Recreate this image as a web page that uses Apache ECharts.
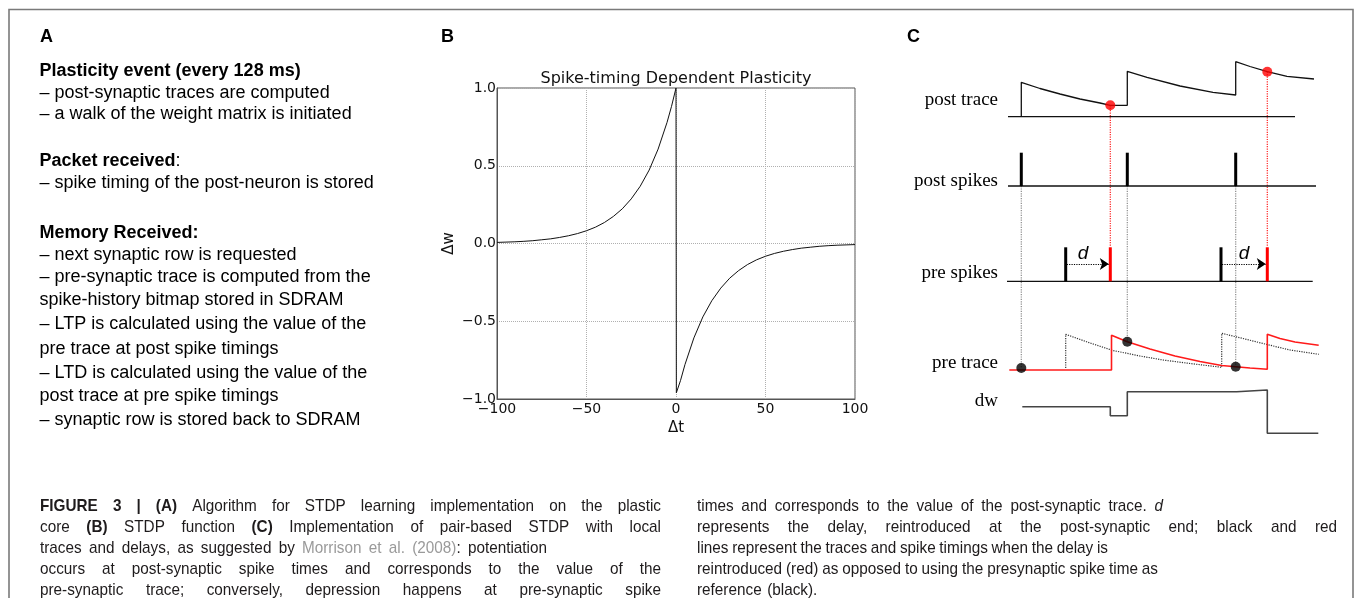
<!DOCTYPE html>
<html><head><meta charset="utf-8">
<script src="https://cdn.jsdelivr.net/npm/echarts@6.0.0/dist/echarts.min.js"></script>
<style>html,body{margin:0;padding:0;background:#fff}#c{width:1355px;height:598px}</style>
</head><body><div id="c"></div>
<script>
// ---------- Panel B data: STDP function ----------
const stdpDt = [-100,-95,-90,-85,-80,-75,-70,-65,-60,-55,-50,-45,-40,-35,-30,-25,-20,-15,-10,-5,-2.5,0,
                0.2,1,2.5,5,10,15,20,25,30,35,40,45,50,55,60,65,70,75,80,85,90,95,100];
const stdpDw = [0.007,0.009,0.011,0.014,0.018,0.024,0.030,0.039,0.050,0.064,0.082,0.105,0.135,0.174,0.223,0.287,0.368,0.472,0.607,0.779,0.882,1.0,
                -0.96,-0.951,-0.882,-0.779,-0.607,-0.472,-0.368,-0.287,-0.223,-0.174,-0.135,-0.105,-0.082,-0.064,-0.050,-0.039,-0.030,-0.024,-0.018,-0.014,-0.011,-0.009,-0.007];
const xTicks = [-100,-50,0,50,100];
const yTicks = [-1.0,-0.5,0.0,0.5,1.0];

// ---------- Panel C data (time t, level y in diagram units) ----------
const postTraceBase = [[8,323.3],[295,323.3]];
const postTrace = [[21.3,323.3],[21.3,357.7],[40,351.5],[60,346],[80,341],[100,337],[110.3,334.7],[127.3,334.7],
                   [127.3,368.7],[147,362.7],[180,354],[213,347.7],[235.7,345],
                   [235.7,378.3],[250,373.5],[267.3,368.3],[287,363.7],[314,361]];
const postSpikeBase = [[8,254],[316,254]];
const postSpikeTimes = [21.3,127.3,235.7];
const postSpikeLevels = [254,287.3];
const preSpikeBase = [[7,158.7],[312.7,158.7]];
const preSpikeTimes = [65.7,221];
const delayedSpikeTimes = [110.3,267.3];
const preSpikeLevels = [158.7,192.7];
const delayArrowLevel = 176;
const preTraceDelayed = [[9.3,70],[111.5,70],[111.5,104.7],[127.3,98.3],[150,91],[175,84],[200,78.5],[221.7,74.5],[235.7,73.3],[250,72],[267.3,70.7],
                         [267.3,105.7],[280,101.5],[295,98],[318.7,94.7]];
const preTraceRaw = [[65.7,72],[65.7,105.7],[90,97],[113,89.5],[140,84],[163,80],[190,76.5],[221.7,72.7],
                     [221.7,106.7],[245,101],[267,95.5],[290,90],[318.7,85.7]];
const dwTrace = [[22.3,33.3],[110.3,33.3],[110.3,24.3],[127.3,24.3],[127.3,48.3],[236.7,48.3],[236.7,50],[267.3,50],[267.3,6.7],[318.3,6.7]];
const ltpPoints = [[21.3,72],[127.3,98.3],[235.7,73.3]];
const ltdPoints = [[110.3,334.7],[267.3,368.3]];

// ---------- Texts ----------
const panelAText = [
  [['Plasticity event (every 128 ms)','b']],
  [['– post-synaptic traces are computed','n']],
  [['– a walk of the weight matrix is initiated','n']],
  [['Packet received','b'],[':','n']],
  [['– spike timing of the post-neuron is stored','n']],
  [['Memory Received:','b']],
  [['– next synaptic row is requested','n']],
  [['– pre-synaptic trace is computed from the','n']],
  [['spike-history bitmap stored in SDRAM','n']],
  [['– LTP is calculated using the value of the','n']],
  [['pre trace at post spike timings','n']],
  [['– LTD is calculated using the value of the','n']],
  [['post trace at pre spike timings','n']],
  [['– synaptic row is stored back to SDRAM','n']]
];
const rowLabels = ['post trace','post spikes','pre spikes','pre trace','dw'];
const captionColA = [
  [['FIGURE 3 | (A)','b'],[' Algorithm for STDP learning implementation on the plastic','n']],
  [['core ','n'],['(B)','b'],[' STDP function ','n'],['(C)','b'],[' Implementation of pair-based STDP with local','n']],
  [['traces and delays, as suggested by ','n'],['Morrison et al. (2008)','g'],[': potentiation','n']],
  [['occurs at post-synaptic spike times and corresponds to the value of the','n']],
  [['pre-synaptic trace; conversely, depression happens at pre-synaptic spike','n']]
];
const captionColB = [
  [['times and corresponds to the value of the post-synaptic trace. ','n'],['d','i']],
  [['represents the delay, reintroduced at the post-synaptic end; black and red','n']],
  [['lines represent the traces and spike timings when the delay is','n']],
  [['reintroduced (red) as opposed to using the presynaptic spike time as','n']],
  [['reference (black).','n']]
];

// ---------- Layout helpers ----------
const SANS = '"Liberation Sans", Arial, sans-serif';
const SERIF = '"Liberation Serif", "Times New Roman", serif';
const DV = '"DejaVu Sans", sans-serif';
const CAP_SCALE = 0.9;
const CAP_SIZE = 17;
const MIN_GAP = 3;
const ctx = document.createElement('canvas').getContext('2d');
function measure(t, f){ ctx.font = f; return ctx.measureText(t).width; }
function txt(x, y, text, font, fill, align, valign, sx){
  return {type:'text', x:x, y:y, scaleX: sx || 1, silent:true, z:10,
    style:{text:text, font:font, fill:fill||'#000', align:align||'left', verticalAlign:valign||'middle',
           textAlign:align||'left', textVerticalAlign:valign||'middle'}};
}
function capFont(st){
  if (st==='b') return 'bold ' + CAP_SIZE + 'px ' + SANS;
  if (st==='i') return 'italic ' + CAP_SIZE + 'px ' + SANS;
  return CAP_SIZE + 'px ' + SANS;
}
function capColor(st){ return st==='g' ? '#9a9a9a' : '#1e1b1c'; }

const graphics = [];
// figure frame
graphics.push({type:'rect', silent:true, z:0, shape:{x:9, y:9.5, width:1344, height:640},
  style:{fill:'none', stroke:'#7a7a7a', lineWidth:1.6}});
// panel letters
graphics.push(txt(40, 37, 'A', 'bold 18px ' + SANS));
graphics.push(txt(441, 37, 'B', 'bold 18px ' + SANS));
graphics.push(txt(907, 37, 'C', 'bold 18px ' + SANS));
// panel A
const panelAY = [71.5, 93, 114.5, 161.5, 183, 233.3, 255.5, 277.5, 300, 324, 349, 373, 396.5, 420];
panelAText.forEach((line, i) => {
  let x = 39.5;
  line.forEach(([t, st]) => {
    const f = (st==='b' ? 'bold ' : '') + '18px ' + SANS;
    graphics.push(txt(x, panelAY[i], t, f, '#000'));
    x += measure(t, f);
  });
});
// panel C row labels
const rowLabelY = [100, 181, 273, 363, 401];
rowLabels.forEach((t, i) => graphics.push(txt(998, rowLabelY[i], t, '19px ' + SERIF, '#000', 'right')));
// caption, word-justified (condensed by horizontal scaling)
function layoutCaption(lines, x0, rights, ys){
  lines.forEach((line, li) => {
    const words = [[]];
    line.forEach(([t, st]) => {
      t.split(' ').forEach((part, i) => {
        if (i > 0) words.push([]);
        if (part !== '') words[words.length-1].push([part, st]);
      });
    });
    const ws = words.filter(w => w.length);
    const raw = ws.map(w => w.reduce((s, [p, st]) => s + measure(p, capFont(st)), 0));
    const rawTotal = raw.reduce((a, b) => a + b, 0);
    let k = CAP_SCALE;
    if (rights[li]) {
      const avail = rights[li] - x0 - MIN_GAP * (ws.length - 1);
      k = Math.min(CAP_SCALE, avail / rawTotal);
    }
    const total = rawTotal * k;
    const gap = rights[li] ? (rights[li] - x0 - total) / (ws.length - 1) : measure(' ', capFont('n')) * k * 1.3;
    let x = x0;
    ws.forEach((w, wi) => {
      let px = x;
      w.forEach(([p, st]) => {
        graphics.push(txt(px, ys[li], p, capFont(st), capColor(st), 'left', 'middle', k));
        px += measure(p, capFont(st)) * k;
      });
      x += raw[wi] * k + gap;
    });
  });
}
const capY = [506, 527, 548, 569, 590];
layoutCaption(captionColA, 40, [661, 661, 547, 661, 661], capY);
layoutCaption(captionColB, 697, [1163, 1337, 1108, 1158, null], capY);
// delay labels
graphics.push(txt(1083, 254, 'd', 'italic 19px ' + SANS, '#000', 'center'));
graphics.push(txt(1244, 254, 'd', 'italic 19px ' + SANS, '#000', 'center'));

// ---------- Series ----------
const C = {xAxisIndex:1, yAxisIndex:1};
function seg(coords, color, width, type){
  return {coords: coords, lineStyle:{color:color, width:width, type:type||'solid', opacity:1}};
}
const lineSegs = [];
postSpikeTimes.forEach((t, i) => lineSegs.push(seg([[t, postSpikeLevels[0]], ltpPoints[i]], '#8a8a8a', 1.2, 'dotted')));
delayedSpikeTimes.forEach((t, i) => lineSegs.push(seg([ltdPoints[i], [t, preSpikeLevels[1]]], '#ff2020', 1.2, 'dotted')));
lineSegs.push(seg(postTraceBase, '#111', 1.3));
lineSegs.push(seg(postSpikeBase, '#111', 1.3));
lineSegs.push(seg(preSpikeBase, '#111', 1.3));
postSpikeTimes.forEach(t => lineSegs.push(seg([[t, postSpikeLevels[0]], [t, postSpikeLevels[1]]], '#000', 3)));
preSpikeTimes.forEach(t => lineSegs.push(seg([[t, preSpikeLevels[0]], [t, preSpikeLevels[1]]], '#000', 3)));
delayedSpikeTimes.forEach(t => lineSegs.push(seg([[t, preSpikeLevels[0]], [t, preSpikeLevels[1]]], '#ff0000', 3)));

const arrowSegs = preSpikeTimes.map((t, i) => ({coords:[[t + 1, delayArrowLevel], [delayedSpikeTimes[i] - 1.5, delayArrowLevel]]}));

const option = {
  backgroundColor: '#fff',
  animation: false,
  graphic: graphics,
  title: {text:'Spike-timing Dependent Plasticity', left:676, top:71, textAlign:'center',
    textStyle:{fontFamily:DV, fontSize:16, fontWeight:'normal', color:'#111'}, padding:0},
  grid: [
    {left:497, top:88, width:358, height:311, show:true, borderColor:'#555', borderWidth:1, backgroundColor:'transparent'},
    {left:1000, top:50, width:320, height:390, show:false}
  ],
  xAxis: [
    {type:'value', min:-100, max:100, interval:50, gridIndex:0,
     axisLine:{show:true, onZero:false, lineStyle:{color:'#555', width:1}}, axisTick:{show:false},
     splitLine:{show:true, lineStyle:{type:'dotted', color:'#b0b0b0', width:1}},
     axisLabel:{fontFamily:DV, fontSize:14, color:'#111', margin:3, showMinLabel:true, showMaxLabel:true,
       formatter: v => xTicks.includes(v) ? String(v).replace('-', '\u2212') : ''},
     name:'\u0394t', nameLocation:'middle', nameGap:20, nameTextStyle:{fontFamily:DV, fontSize:15, color:'#111'}},
    {type:'value', min:0, max:320, gridIndex:1, show:false}
  ],
  yAxis: [
    {type:'value', min:-1, max:1, interval:0.5, gridIndex:0,
     axisLine:{show:true, onZero:false, lineStyle:{color:'#555', width:1}}, axisTick:{show:false},
     splitLine:{show:true, lineStyle:{type:'dotted', color:'#b0b0b0', width:1}},
     axisLabel:{fontFamily:DV, fontSize:14, color:'#111', margin:1, showMinLabel:true, showMaxLabel:true,
       formatter: v => yTicks.includes(v) ? v.toFixed(1).replace('-', '\u2212') : ''},
     name:'\u0394w', nameLocation:'middle', nameGap:40, nameTextStyle:{fontFamily:DV, fontSize:15, color:'#111'}},
    {type:'value', min:0, max:390, gridIndex:1, show:false}
  ],
  series: [
    {type:'line', xAxisIndex:0, yAxisIndex:0, data: stdpDt.map((t, i) => [t, stdpDw[i]]),
     showSymbol:false, lineStyle:{color:'#111', width:1}, silent:true},
    Object.assign({type:'lines', coordinateSystem:'cartesian2d', polyline:true, silent:true, data: lineSegs, z:3}, C),
    Object.assign({type:'lines', coordinateSystem:'cartesian2d', silent:true, data: arrowSegs, z:3,
      symbol:['none','arrow'], symbolSize:[0, 9],
      lineStyle:{color:'#000', width:1.2, type:'dotted', opacity:1}}, C),
    Object.assign({type:'line', data: postTrace, showSymbol:false, lineStyle:{color:'#111', width:1.3}, silent:true, z:4}, C),
    Object.assign({type:'line', data: preTraceRaw, showSymbol:false, lineStyle:{color:'#333', width:1.2, type:'dotted'}, silent:true, z:4}, C),
    Object.assign({type:'line', data: preTraceDelayed, showSymbol:false, lineStyle:{color:'#ff1a1a', width:1.6}, silent:true, z:5}, C),
    Object.assign({type:'line', data: dwTrace, showSymbol:false, lineStyle:{color:'#444', width:1.6}, silent:true, z:4}, C),
    Object.assign({type:'scatter', data: ltpPoints, symbolSize:10, itemStyle:{color:'#000'}, silent:true, z:6}, C),
    Object.assign({type:'scatter', data: ltdPoints, symbolSize:10, itemStyle:{color:'#ff0000'}, silent:true, z:6}, C)
  ]
};
const chart = echarts.init(document.getElementById('c'), null, {renderer:'canvas'});
chart.setOption(option);
</script></body></html>
